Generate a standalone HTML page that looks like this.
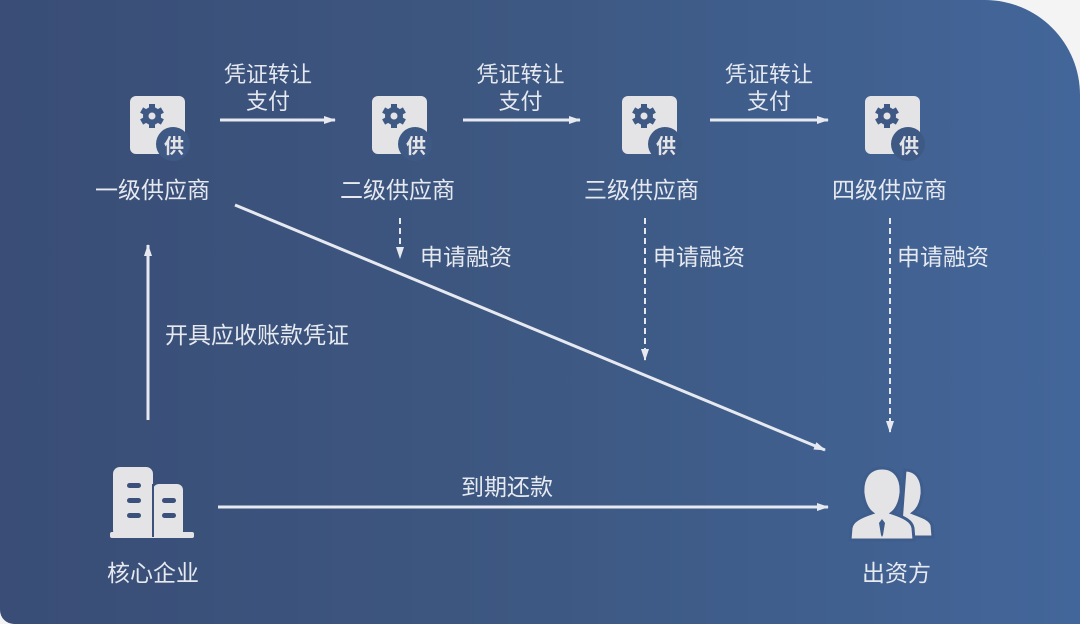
<!DOCTYPE html>
<html><head><meta charset="utf-8"><style>
html,body{margin:0;padding:0;background:#fff}
#c{position:relative;width:1080px;height:624px;overflow:hidden;background:#f4f4f4}
#bg{position:absolute;left:0;top:0;width:1080px;height:624px;border-top-right-radius:95px;border-bottom-left-radius:14px;background:linear-gradient(90deg,#394d76 0%,#3d5882 50%,#43669a 100%)}
.t{position:absolute;color:#e6e9ef;font-family:"Liberation Sans","Noto Sans CJK SC",sans-serif;font-size:23px;line-height:28px;white-space:nowrap}
.s{font-size:22px;line-height:27px;text-align:center}
svg{position:absolute;left:0;top:0}
</style></head><body><div id="c"><div id="bg"></div>
<svg width="1080" height="624">
<defs>
<marker id="a" markerWidth="12" markerHeight="10" refX="11" refY="5" orient="auto" markerUnits="userSpaceOnUse"><path d="M0,1 L12,5 L0,9 Z" fill="#e6e9ef"/></marker>
<g id="icon">
<rect x="0" y="0" width="55" height="58" rx="6" fill="#e4e4e6"/>
<circle cx="43" cy="48" r="17" fill="#3f5985"/>
<g fill="#3f5985" transform="translate(22,20)">
<circle r="9"/><rect x="-3" y="-12" width="6" height="24"/><rect x="-3" y="-12" width="6" height="24" transform="rotate(60)"/><rect x="-3" y="-12" width="6" height="24" transform="rotate(120)"/>
<circle r="3.5" fill="#e4e4e6"/></g>
<text x="34" y="57" font-size="20" font-weight="bold" fill="#e4e4e6" font-family="Noto Sans CJK SC,sans-serif">供</text>
</g>
</defs>
<use href="#icon" x="130" y="96"/>
<use href="#icon" x="372" y="96"/>
<use href="#icon" x="622" y="96"/>
<use href="#icon" x="865" y="96"/>
<g stroke="#e6e9ef" stroke-width="3" fill="none">
<line x1="220" y1="120" x2="335" y2="120" marker-end="url(#a)"/>
<line x1="463" y1="120" x2="580" y2="120" marker-end="url(#a)"/>
<line x1="710" y1="120" x2="828" y2="120" marker-end="url(#a)"/>
<line x1="235" y1="205" x2="825" y2="450" marker-end="url(#a)"/>
<line x1="148" y1="420" x2="148" y2="245" marker-end="url(#a)"/>
<line x1="218" y1="507" x2="828" y2="507" marker-end="url(#a)"/>
<g stroke-dasharray="6,4" stroke-width="2">
<line x1="400" y1="218" x2="400" y2="258" marker-end="url(#a)"/>
<line x1="645" y1="218" x2="645" y2="360" marker-end="url(#a)"/>
<line x1="890" y1="218" x2="890" y2="432" marker-end="url(#a)"/>
</g></g>
<g fill="#e4e4e6">
<rect x="113" y="467" width="40" height="70" rx="7"/>
<rect x="153" y="484" width="30" height="53" rx="6"/>
<rect x="110" y="532" width="84" height="6" rx="2"/>
<line x1="153" y1="484" x2="153" y2="537" stroke="#3b507a" stroke-width="2"/>
<g fill="#3b507a"><rect x="127" y="483" width="14" height="5" rx="2.5"/><rect x="127" y="498" width="14" height="5" rx="2.5"/><rect x="127" y="513" width="14" height="5" rx="2.5"/><rect x="162" y="498" width="14" height="5" rx="2.5"/><rect x="162" y="513" width="14" height="5" rx="2.5"/></g>
</g>
<g>
<path d="M905,470 c12,0 18,10 17,24 c-1,10 -5,16 -9,19 c10,4 17,6 19,12 l1,12 h-33 z" fill="#e4e4e6" stroke="#3f5d8c" stroke-width="3"/>
<path d="M882,468 c13,0 20,10 19,25 c-1,10 -5,17 -9,20 c12,4 20,8 21,15 l1,12 h-64 l1,-12 c1,-7 9,-11 21,-15 c-4,-3 -8,-10 -9,-20 c-1,-15 6,-25 19,-25 z" fill="#e4e4e6" stroke="#3f5d8c" stroke-width="3"/>
<path d="M882,519 l3,4 l-2,12 l-1,2 l-1,-2 l-2,-12 z" fill="#3f5d8c"/>
</g>
</svg>
<div class="t s" style="left:218px;top:61px;width:100px">凭证转让<br>支付</div>
<div class="t s" style="left:463px;top:61px;width:115px">凭证转让<br>支付</div>
<div class="t s" style="left:710px;top:61px;width:118px">凭证转让<br>支付</div>
<div class="t" style="left:95px;top:176px">一级供应商</div>
<div class="t" style="left:340px;top:176px">二级供应商</div>
<div class="t" style="left:584px;top:176px">三级供应商</div>
<div class="t" style="left:832px;top:176px">四级供应商</div>
<div class="t" style="left:420px;top:243px">申请融资</div>
<div class="t" style="left:653px;top:243px">申请融资</div>
<div class="t" style="left:897px;top:243px">申请融资</div>
<div class="t" style="left:165px;top:321px">开具应收账款凭证</div>
<div class="t" style="left:461px;top:473px">到期还款</div>
<div class="t" style="left:107px;top:559px">核心企业</div>
<div class="t" style="left:862px;top:559px">出资方</div>
</div></body></html>
